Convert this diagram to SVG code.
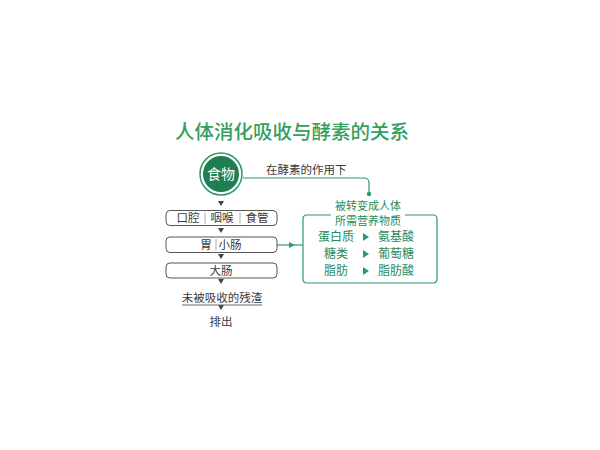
<svg xmlns="http://www.w3.org/2000/svg" width="600" height="450" viewBox="0 0 600 450">
<style>
.t{font-family:"Noto Sans CJK SC","Noto Sans",sans-serif;}
.dk{fill:#3a3a3a;font-size:11.5px;}
.gr{fill:#2a8a5a;font-size:12px;}
.hd{fill:#2a8a5a;font-size:11px;}
.box{fill:#fff;stroke:#555;stroke-width:1;}
.sep{stroke:#aaa;stroke-width:1;}
.tri{fill:#444;}
</style>
<rect width="600" height="450" fill="#fff"/>
<text class="t" x="292" y="139" text-anchor="middle" font-size="19.5" fill="#33a060" font-weight="500">人体消化吸收与酵素的关系</text>
<g id="connectors">
<path d="M243,178 H364 Q369,178 369,183 V193" fill="none" stroke="#2a9a6a" stroke-width="1.2"/>
<circle cx="369" cy="194" r="2.2" fill="#2a9a6a"/>
<path d="M277,245 H303" stroke="#2a9a6a" stroke-width="1.2"/>
<path d="M289,242 L295,245 L289,248 Z" fill="#2a9a6a"/>
<path class="tri" d="M218,201 H224 L221,206 Z"/>
<path class="tri" d="M218,228 H224 L221,233 Z"/>
<path class="tri" d="M218,254 H224 L221,259 Z"/>
<path class="tri" d="M218,279 H224 L221,284 Z"/>
<path class="tri" d="M218,305 H224 L221,310 Z"/>
<line x1="182" y1="305" x2="262" y2="305" stroke="#666" stroke-width="1"/>
</g>
<g id="food">
<circle cx="221" cy="174" r="21" fill="#fff" stroke="#2a9a6a" stroke-width="1.5"/>
<circle cx="221" cy="174" r="18" fill="#1f7d52"/>
<text class="t" x="221" y="179" text-anchor="middle" font-size="14" fill="#fff">食物</text>
</g>
<text class="t dk" x="266" y="174" font-size="12">在酵素的作用下</text>
<g id="box1">
<rect class="box" x="166" y="210.5" width="111" height="15" rx="4"/>
<text class="t dk" x="188" y="222" text-anchor="middle">口腔</text>
<line class="sep" x1="205" y1="212.5" x2="205" y2="223.5"/>
<text class="t dk" x="222" y="222" text-anchor="middle">咽喉</text>
<line class="sep" x1="240" y1="212.5" x2="240" y2="223.5"/>
<text class="t dk" x="257" y="222" text-anchor="middle">食管</text>
</g>
<g id="box2">
<rect class="box" x="166" y="237" width="111" height="15.5" rx="4"/>
<text class="t dk" x="206" y="249" text-anchor="middle">胃</text>
<line class="sep" x1="216" y1="239" x2="216" y2="250.5"/>
<text class="t dk" x="230" y="249" text-anchor="middle">小肠</text>
</g>
<g id="box3">
<rect class="box" x="166" y="263" width="111" height="15" rx="4"/>
<text class="t dk" x="221" y="275" text-anchor="middle">大肠</text>
</g>
<g id="residue">
<text class="t dk" x="222" y="302" text-anchor="middle">未被吸收的残渣</text>
</g>
<g id="excrete">
<text class="t dk" x="221" y="326" text-anchor="middle">排出</text>
</g>
<g id="nutrients">
<path d="M331,215 H307 Q303,215 303,219 V279 Q303,283 307,283 H433 Q437,283 437,279 V219 Q437,215 433,215 H405" fill="none" stroke="#2a9a6a" stroke-width="1.2"/>
<text class="t hd" x="368" y="210" text-anchor="middle">被转变成人体</text>
<text class="t hd" x="368" y="224.5" text-anchor="middle">所需营养物质</text>
<text class="t gr" x="336" y="241" text-anchor="middle">蛋白质</text>
<text class="t gr" x="336" y="258" text-anchor="middle">糖类</text>
<text class="t gr" x="336" y="275" text-anchor="middle">脂肪</text>
<path d="M363,233 L369,237 L363,241 Z" fill="#2a9a6a"/>
<path d="M363,250 L369,254 L363,258 Z" fill="#2a9a6a"/>
<path d="M363,267 L369,271 L363,275 Z" fill="#2a9a6a"/>
<text class="t gr" x="396" y="241" text-anchor="middle">氨基酸</text>
<text class="t gr" x="396" y="258" text-anchor="middle">葡萄糖</text>
<text class="t gr" x="396" y="275" text-anchor="middle">脂肪酸</text>
</g>
</svg>
